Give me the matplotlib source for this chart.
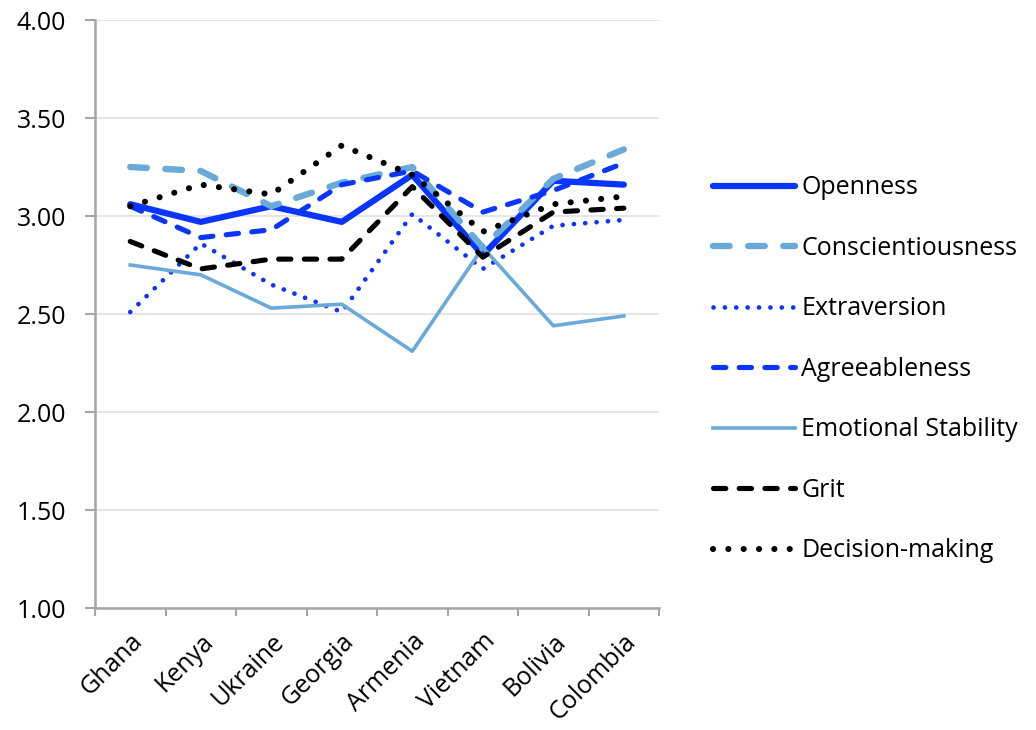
import numpy as np
import matplotlib
matplotlib.use("Agg")
import matplotlib.pyplot as plt
from matplotlib.ticker import FixedLocator, NullFormatter

countries = ["Ghana", "Kenya", "Ukraine", "Georgia", "Armenia", "Vietnam", "Bolivia", "Colombia"]

openness = [3.06, 2.97, 3.05, 2.97, 3.21, 2.80, 3.18, 3.16]
conscientiousness = [3.25, 3.23, 3.05, 3.17, 3.25, 2.84, 3.19, 3.34]
extraversion = [2.51, 2.86, 2.65, 2.51, 3.01, 2.73, 2.95, 2.98]
agreeableness = [3.05, 2.89, 2.93, 3.16, 3.23, 3.02, 3.13, 3.27]
emotional_stability = [2.75, 2.70, 2.53, 2.55, 2.31, 2.84, 2.44, 2.49]
grit = [2.87, 2.73, 2.78, 2.78, 3.15, 2.79, 3.02, 3.04]
decision_making = [3.05, 3.16, 3.11, 3.36, 3.21, 2.92, 3.06, 3.10]

yticks = [1.00, 1.50, 2.00, 2.50, 3.00, 3.50, 4.00]

blue = "#0A35FF"
light = "#6AAAD9"

plt.rcParams['font.family'] = ['Open Sans', 'DejaVu Sans']

fig = plt.figure(figsize=(10.36, 7.30), dpi=100)
ax = fig.add_axes([0.0917, 0.1671, 0.5445, 0.8055])

x = np.arange(len(countries))

ax.plot(x, openness, color=blue, lw=4.5, solid_capstyle='round', label="Openness")
ax.plot(x, conscientiousness, color=light, lw=4.6, linestyle=(0, (2.6, 2.9)),
        dash_capstyle='round', label="Conscientiousness")
ax.plot(x, extraversion, color=blue, lw=3.4, linestyle=(0, (0.01, 2.4)),
        dash_capstyle='round', label="Extraversion")
ax.plot(x, agreeableness, color=blue, lw=3.7, linestyle=(0, (2.4, 2.6)),
        dash_capstyle='round', label="Agreeableness")
ax.plot(x, emotional_stability, color=light, lw=2.6, label="Emotional Stability")
ax.plot(x, grit, color="black", lw=3.7, linestyle=(0, (2.4, 2.6)),
        dash_capstyle='round', label="Grit")
ax.plot(x, decision_making, color="black", lw=4.4, linestyle=(0, (0.01, 2.5)),
        dash_capstyle='round', label="Decision-making")

ax.set_xlim(-0.5, len(countries) - 0.5)
ax.set_ylim(1.0, 4.0)
ax.set_yticks(yticks)
ax.set_yticklabels(["%.2f" % v for v in yticks])
ax.set_xticks(x)
ax.set_xticklabels(countries, rotation=45, ha='right', va='top', rotation_mode='anchor')
ax.xaxis.set_minor_locator(FixedLocator(np.arange(-0.5, len(countries), 1.0)))
ax.xaxis.set_minor_formatter(NullFormatter())

ax.tick_params(axis='x', which='major', length=0, pad=15, labelsize=18)
ax.tick_params(axis='x', which='minor', length=6, width=1.5, color="#A6A6A6", direction='out')
ax.tick_params(axis='y', length=7, width=1.5, color="#A6A6A6", pad=14, labelsize=18)

ax.grid(axis='y', color="#E3E3E3", lw=1.3)
ax.set_axisbelow(True)
for s in ["top", "right"]:
    ax.spines[s].set_visible(False)
for s in ["left", "bottom"]:
    ax.spines[s].set_color("#A6A6A6")
    ax.spines[s].set_linewidth(1.8)

fig.legend(loc='center left', bbox_to_anchor=(0.688, 0.494), frameon=False,
           fontsize=18, handlelength=3.3, handletextpad=0.24, labelspacing=1.42,
           borderpad=0, borderaxespad=0)

fig.savefig("out.png", dpi=100)
